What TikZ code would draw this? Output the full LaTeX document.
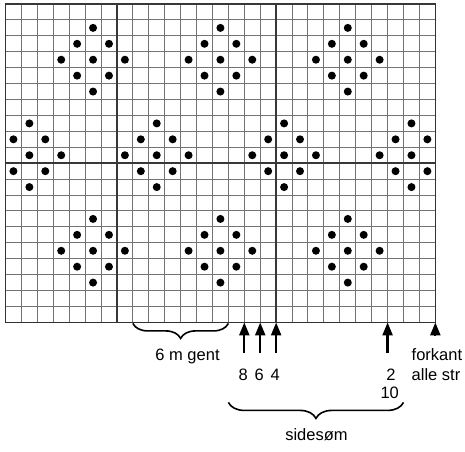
\documentclass[tikz,border=0pt]{standalone}
\usepackage{fontspec}
\setmainfont{Liberation Sans}
\usetikzlibrary{decorations.pathreplacing,arrows.meta}
\begin{document}
\begin{tikzpicture}[x=1pt,y=-1pt,
  thinline/.style={draw=black!55, line width=1pt},
  thickline/.style={draw=black!78, line width=2.3pt},
  borderline/.style={draw=black!80, line width=1.4pt},
  lbl/.style={font=\fontsize{16.5}{18}\selectfont, inner sep=0pt, anchor=base},
  upar/.style={-{Triangle[width=10pt,length=13pt]}, line width=2.2pt},
  brc/.style={decorate, decoration={brace, mirror, amplitude=15pt}, line width=1.6pt}
]
\useasboundingbox (0,0) rectangle (465,451);
\begin{scope}[shift={(5.5,4)}, x=15.92pt, y=-15.92pt]
  % thin grid
  \foreach \i in {1,...,26} \draw[thinline] (\i,0) -- (\i,20);
  \foreach \j in {1,...,19} \draw[thinline] (0,\j) -- (27,\j);
  % thick dividers
  \draw[thickline] (7,0) -- (7,20);
  \draw[thickline] (17,0) -- (17,20);
  \draw[thickline] (0,10) -- (27,10);
  % border
  \draw[borderline] (0,0) rectangle (27,20);
  \draw[thickline] (0,0) -- (27,0);
  % dots
  \begin{scope}
    \clip (0,0) rectangle (27,20);
    \foreach \cx/\cy in {5/3,13/3,21/3,1/9,9/9,17/9,25/9,5/15,13/15,21/15}
      \foreach \dx/\dy in {0/-2,-1/-1,1/-1,-2/0,0/0,2/0,-1/1,1/1,0/2}
        \fill (\cx+\dx+0.5,\cy+\dy+0.5) circle[radius=4pt];
  \end{scope}
  % reference points on the bottom edge
  \coordinate (b8) at (8,20);
  \coordinate (b14) at (14,20);
  \coordinate (b15) at (15,20);
  \coordinate (b16) at (16,20);
  \coordinate (b17) at (17,20);
  \coordinate (b24) at (24,20);
  \coordinate (b25) at (25,20);
  \coordinate (b27) at (27,20);
\end{scope}
% arrow tails
\path (b15) ++(0,31) coordinate (t15);
\path (b16) ++(0,31) coordinate (t16);
\path (b17) ++(0,31) coordinate (t17);
\path (b24) ++(0,31) coordinate (t24);
\path (b27) ++(0,13) coordinate (t27);
\draw[upar] (t15) -- (b15);
\draw[upar] (t16) -- (b16);
\draw[upar] (t17) -- (b17);
\draw[upar] (t24) -- (b24);
\draw[upar] (t27) -- (b27);
% braces
\path (b8) ++(0,1) coordinate (ba1);
\path (b14) ++(0,1) coordinate (ba2);
\draw[brc] (ba1) -- (ba2);
\path (b14) ++(0,80) coordinate (bb1);
\path (b25) ++(0,80) coordinate (bb2);
\draw[brc, decoration={amplitude=16pt}] (bb1) -- (bb2);
% labels
\node[lbl] (gent) at (187.5,360.5) {6 m gent};
\node[lbl] (n8) at (243.3,380.5) {8};
\node[lbl] (n6) at (259.2,380.5) {6};
\node[lbl] (n4) at (275.2,380.5) {4};
\node[lbl] (n2) at (391,380.5) {2};
\node[lbl] (n10) at (389.7,398.5) {10};
\node[lbl, anchor=base west] (fk) at (411.5,360.5) {forkant};
\node[lbl, anchor=base west] (as) at (411.5,380.5) {alle str};
\node[lbl] (side) at (316.5,440.7) {sidesøm};
\end{tikzpicture}
\end{document}
